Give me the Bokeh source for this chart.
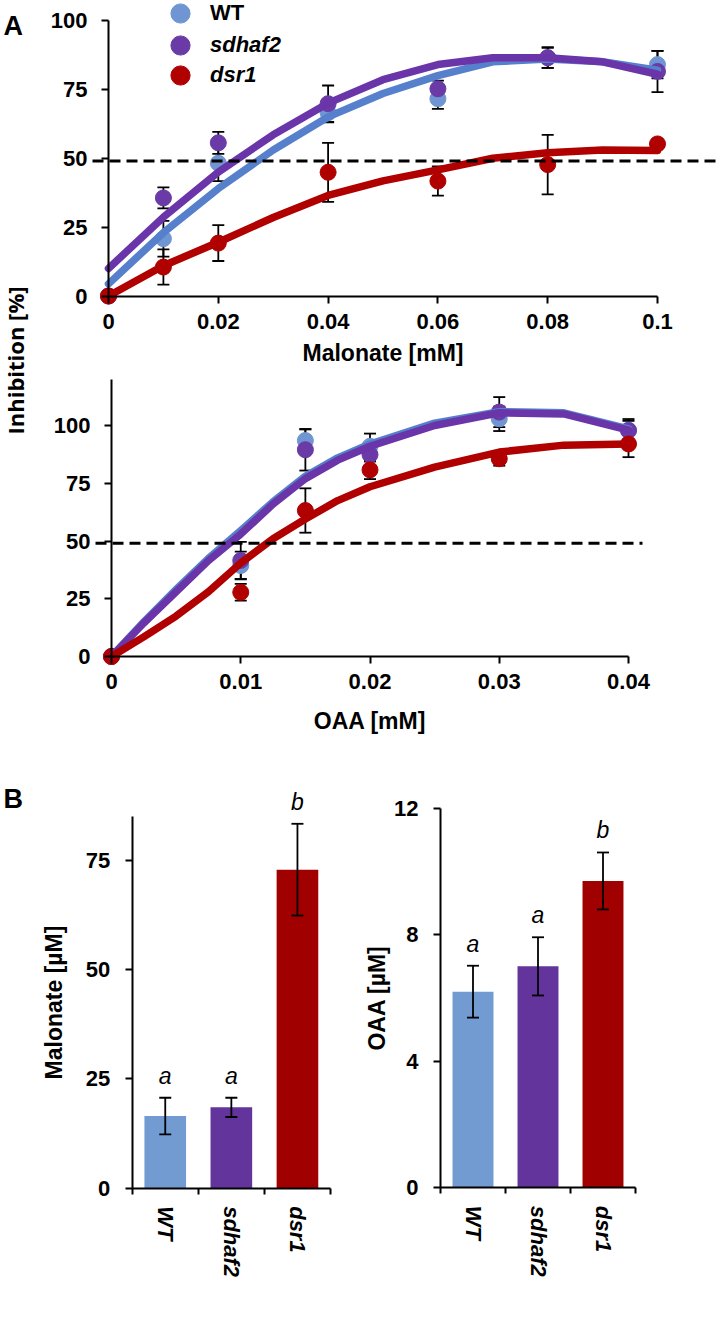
import math
from bokeh.plotting import figure
from bokeh.models import (Range1d, FixedTicker, NumeralTickFormatter, LinearAxis,
                          Legend, LegendItem)
from bokeh.core.properties import value
from bokeh.embed import file_html
from bokeh.resources import INLINE

# ---------------- data ----------------
genotypes = ["WT", "sdhaf2", "dsr1"]

# Panel A, top: inhibition vs malonate
malonate_x = [0, 0.01, 0.02, 0.04, 0.06, 0.08, 0.1]
wt_mal = [0, 20.8, 48.2, 66.5, 71.6, 86.5, 84.0]
wt_mal_err = [0, 6.5, 6.5, 3.5, 3.7, 3.7, 5.0]
sd_mal = [0, 35.6, 55.6, 69.8, 75.2, 86.5, 81.5]
sd_mal_err = [0, 3.8, 4.0, 6.6, 3.0, 3.7, 7.5]
dsr_mal = [0, 10.5, 19.2, 44.9, 41.7, 47.7, 55.2]
dsr_mal_err = [0, 6.4, 6.5, 10.7, 5.3, 10.8, 1.0]

fit_x_mal = [0, 0.01, 0.02, 0.03, 0.04, 0.05, 0.06, 0.07, 0.08, 0.09, 0.1]
wt_fit_mal = [4.4, 23, 39, 53, 65, 73.5, 80, 85, 86, 85, 82]
sd_fit_mal = [10, 28.6, 45, 58.5, 70, 78.5, 84, 86.5, 86.5, 85, 80.5]
dsr_fit_mal = [0, 11, 19.5, 28.5, 36.5, 41.8, 45.8, 50, 52, 53, 52.8]

# Panel A, bottom: inhibition vs OAA
oaa_x = [0, 0.01, 0.015, 0.02, 0.03, 0.04]
wt_oaa = [0, 39.4, 93.5, 91.0, 102.9, 98.0]
wt_oaa_err = [0, 6.0, 4.8, 5.5, 5.3, 4.0]
sd_oaa = [0, 41.6, 89.5, 87.4, 105.8, 97.8]
sd_oaa_err = [0, 8.0, 9.0, 3.0, 6.5, 5.0]
dsr_oaa = [0, 27.8, 63.2, 80.8, 85.6, 92.0]
dsr_oaa_err = [0, 3.6, 9.6, 4.0, 3.0, 5.7]

fit_x_oaa = [0, 0.0025, 0.005, 0.0075, 0.01, 0.0125, 0.015, 0.0175, 0.02, 0.025, 0.03, 0.035, 0.04]
wt_fit_oaa = [0, 15, 29, 42.5, 54.5, 67, 78, 86, 92, 101, 106, 105.5, 98.5]
sd_fit_oaa = [0, 14.5, 28, 41.5, 53, 66, 77, 85, 91, 100, 105.5, 105, 98]
dsr_fit_oaa = [0, 8.5, 17.5, 28, 40.5, 51, 59.5, 67.5, 73.5, 82, 88.5, 91.5, 92]

threshold = 49  # dashed 50 % line

malonate_ticks = [0, 0.02, 0.04, 0.06, 0.08, 0.1]
oaa_ticks = [0, 0.01, 0.02, 0.03, 0.04]
inh_ticks = [0, 25, 50, 75, 100]
inh_top_oaa = 120

# Panel B: bar charts
malonate_conc = [16.5, 18.5, 72.9]
malonate_conc_err = [4.2, 2.2, 10.5]
oaa_conc = [6.2, 7.0, 9.7]
oaa_conc_err = [0.82, 0.92, 0.9]
sig_letters = ["a", "a", "b"]
malonate_conc_ticks = [0, 25, 50, 75]
malonate_conc_max = 85
oaa_conc_ticks = [0, 4, 8, 12]

# ---------------- styles / layout ----------------
FONT = "Liberation Sans"
DOT = {"WT": "#6f96d2", "sdhaf2": "#6a3aa6", "dsr1": "#b00000"}
LINE = {"WT": "#5680cb", "sdhaf2": "#6a35a8", "dsr1": "#b00000"}
BAR = {"WT": "#729bd2", "sdhaf2": "#63349b", "dsr1": "#a00000"}

W, H = 717, 1329


def x_range_from(p0, v0, p1, v1):
    s = (v1 - v0) / (p1 - p0)
    return Range1d(start=v0 - p0 * s, end=v0 + (W - p0) * s)


def y_range_from(p0, v0, p1, v1):
    # pixel rows counted from the top of the canvas
    s = (v1 - v0) / (p1 - p0)
    return Range1d(start=v0 + (H - p0) * s, end=v0 - p0 * s)


p = figure(width=W, height=H, x_range=Range1d(0, W), y_range=Range1d(H, 0),
           x_axis_type=None, y_axis_type=None, min_border=0,
           output_backend="svg", toolbar_location=None)
p.outline_line_color = None
p.background_fill_color = "white"
p.border_fill_color = "white"

p.extra_x_ranges = {
    "mal_x": x_range_from(108, 0, 657, 0.1),
    "oaa_x": x_range_from(111, 0, 628, 0.04),
    "b1_x": x_range_from(131.7, 0, 330, 3),
    "b2_x": x_range_from(440, 0, 635, 3),
}
p.extra_y_ranges = {
    "mal_y": y_range_from(295.5, 0, 20, 100),
    "oaa_y": y_range_from(656, 0, 425, 100),
    "b1_y": y_range_from(1187.7, 0, 860, 75),
    "b2_y": y_range_from(1187.3, 0, 807.7, 12),
}


def style_axis(ax):
    ax.axis_line_color = "black"
    ax.axis_line_width = 2
    ax.major_tick_line_color = "black"
    ax.major_tick_line_width = 2
    ax.major_tick_out = 7
    ax.major_tick_in = 0
    ax.minor_tick_out = 0
    ax.minor_tick_in = 0
    ax.major_label_text_font = FONT
    ax.major_label_text_font_style = "bold"
    ax.major_label_text_font_size = "22px"
    ax.major_label_text_color = "black"
    ax.axis_label_text_font = FONT
    ax.axis_label_text_font_style = "bold"
    ax.axis_label_text_font_size = "23px"
    ax.axis_label_text_color = "black"


def add_axis(side, xr, yr, ticks, bounds, fixed=0, **kw):
    ax = LinearAxis(x_range_name=xr, y_range_name=yr)
    style_axis(ax)
    ax.ticker = FixedTicker(ticks=ticks)
    ax.bounds = bounds
    ax.fixed_location = fixed
    for k, v in kw.items():
        setattr(ax, k, v)
    p.add_layout(ax, side)
    return ax


def error_bars(xs, ys, errs, xr, yr):
    xx, lo, hi = [], [], []
    for x, y, e in zip(xs, ys, errs):
        if e > 0:
            xx.append(x)
            lo.append(y - e)
            hi.append(y + e)
    p.segment(x0=xx, y0=lo, x1=xx, y1=hi, line_color="black", line_width=1.8,
              x_range_name=xr, y_range_name=yr)
    p.scatter(xx + xx, lo + hi, marker="dash", size=12, line_color="black",
              line_width=1.8, x_range_name=xr, y_range_name=yr)


def inhibition_chart(xs, series, fit_x, fits, xr, yr, dash_px):
    rends = {}
    for name, ys, errs in series:
        error_bars(xs, ys, errs, xr, yr)
    for name, ys, errs in series:
        rends[name] = p.scatter(xs, ys, marker="circle", size=16,
                                fill_color=DOT[name], line_color=DOT[name],
                                x_range_name=xr, y_range_name=yr)
    for name, fy in fits:
        p.line(fit_x, fy, line_width=7.5, line_color=LINE[name],
               line_cap="round", line_join="round", x_range_name=xr, y_range_name=yr)
    p.line(dash_px, [threshold, threshold], line_color="black", line_width=3,
           line_dash="11 6", y_range_name=yr)
    return rends


# ---------------- Panel A top ----------------
rends = inhibition_chart(
    malonate_x,
    [("WT", wt_mal, wt_mal_err), ("sdhaf2", sd_mal, sd_mal_err), ("dsr1", dsr_mal, dsr_mal_err)],
    fit_x_mal,
    [("WT", wt_fit_mal), ("sdhaf2", sd_fit_mal), ("dsr1", dsr_fit_mal)],
    "mal_x", "mal_y", [92, W])
add_axis("left", "mal_x", "mal_y", inh_ticks, (inh_ticks[0], inh_ticks[-1]),
         major_label_standoff=14)
add_axis("below", "mal_x", "mal_y", malonate_ticks, (malonate_ticks[0], malonate_ticks[-1]),
         formatter=NumeralTickFormatter(format="0.[00]"), major_label_standoff=11,
         axis_label="Malonate [mM]", axis_label_standoff=7)

# ---------------- Panel A bottom ----------------
inhibition_chart(
    oaa_x,
    [("WT", wt_oaa, wt_oaa_err), ("sdhaf2", sd_oaa, sd_oaa_err), ("dsr1", dsr_oaa, dsr_oaa_err)],
    fit_x_oaa,
    [("WT", wt_fit_oaa), ("sdhaf2", sd_fit_oaa), ("dsr1", dsr_fit_oaa)],
    "oaa_x", "oaa_y", [95, 642])
add_axis("left", "oaa_x", "oaa_y", inh_ticks, (inh_ticks[0], inh_top_oaa),
         major_label_standoff=14)
add_axis("below", "oaa_x", "oaa_y", oaa_ticks, (oaa_ticks[0], oaa_ticks[-1]),
         formatter=NumeralTickFormatter(format="0.[00]"), major_label_standoff=10,
         axis_label="OAA [mM]", axis_label_standoff=16)

# shared y-axis title for both panel-A charts (an axis with only a label)
shared = add_axis("left", "default", "default", [], (285, 435), fixed=29,
                  axis_label="Inhibition [%]", axis_label_standoff=0,
                  major_label_standoff=0)
shared.axis_line_color = None
shared.major_tick_out = 0
shared.axis_label_text_font = "Open Sans"
shared.axis_label_text_font_style = "bold"
shared.axis_label_text_font_size = "22px"

# legend (one per genotype so each keeps its own font style)
legend_centres = [13, 45, 75]
for name, style, yc in zip(genotypes, ["bold", "bold italic", "bold italic"], legend_centres):
    lg = Legend(items=[LegendItem(label=name, renderers=[rends[name]])],
                location=(156, H - (yc + 24)),
                glyph_width=48, glyph_height=48, label_standoff=6, padding=0, margin=0,
                spacing=0, border_line_color=None, background_fill_alpha=0,
                label_text_font=FONT, label_text_font_style=style,
                label_text_font_size="22px", label_text_color="black")
    p.add_layout(lg)


# ---------------- Panel B ----------------
def bar_chart(vals, errs, yticks, ymax, ylabel, xr, yr, lab_standoff):
    centers = [i + 0.5 for i in range(len(genotypes))]
    p.vbar(x=centers, top=vals, width=0.63, fill_color=[BAR[g] for g in genotypes],
           line_color=None, x_range_name=xr, y_range_name=yr)
    error_bars(centers, vals, errs, xr, yr)
    p.text(x=centers, y=[v + e for v, e in zip(vals, errs)], text=sig_letters,
           text_align="center", text_baseline="middle", y_offset=-22,
           text_font=value(FONT), text_font_style="italic", text_font_size="23px",
           text_color="black", x_range_name=xr, y_range_name=yr)
    xa = add_axis("below", xr, yr, centers, (0, len(genotypes)))
    xa.ticker = FixedTicker(ticks=centers, minor_ticks=list(range(len(genotypes) + 1)))
    xa.major_label_overrides = {c: g for c, g in zip(centers, genotypes)}
    xa.major_tick_out = 0
    xa.minor_tick_out = 6
    xa.minor_tick_line_color = "black"
    xa.minor_tick_line_width = 2
    xa.major_label_orientation = "vertical"
    xa.major_label_text_font_style = "bold italic"
    xa.major_label_standoff = 12
    add_axis("left", xr, yr, yticks, (yticks[0], ymax), major_label_standoff=15,
             axis_label=ylabel, axis_label_standoff=lab_standoff)


bar_chart(malonate_conc, malonate_conc_err, malonate_conc_ticks, malonate_conc_max,
          "Malonate [µM]", "b1_x", "b1_y", 16)
bar_chart(oaa_conc, oaa_conc_err, oaa_conc_ticks, oaa_conc_ticks[-1],
          "OAA [µM]", "b2_x", "b2_y", 1)

# ---------------- panel letters (pixel space) ----------------
p.text(x=[3, 3], y=[25, 798], text=["A", "B"], text_align="left", text_baseline="alphabetic",
       text_font=value(FONT), text_font_style="bold", text_font_size="27px",
       text_color="black")

open("out.html", "w").write(file_html(p, INLINE))
